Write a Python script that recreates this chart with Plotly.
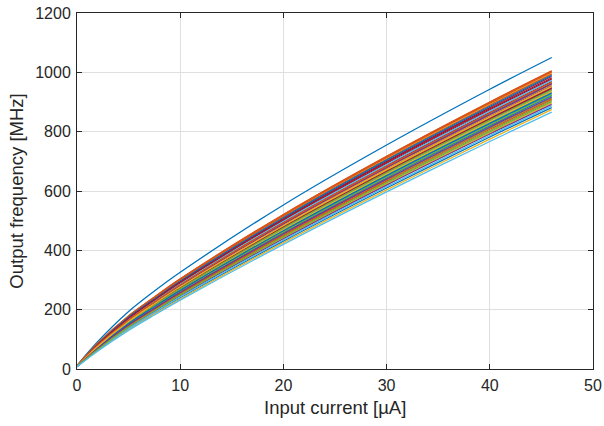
import plotly.graph_objects as go

# Input current sample points [uA]
X_POINTS = [0, 2, 5, 7.5, 10, 20, 30, 40, 46]

# Output frequency [MHz] of each Monte-Carlo run (trace order), at each sample current
F_AT_0 = [12, 10, 10, 9, 9, 9, 10, 10, 10, 9, 10, 9, 9, 10, 8, 10, 8, 9, 9, 9, 10,
          9, 10, 10, 9, 9, 10, 9, 10, 9, 9, 10, 9, 8, 10, 9, 10, 10, 9, 9, 8]
F_AT_2 = [92, 86, 85, 75, 69, 71, 82, 78, 86, 66, 77, 72, 70, 81, 63, 84, 62, 76, 67, 74, 79,
          70, 85, 77, 65, 71, 80, 75, 83, 68, 73, 78, 74, 64, 82, 72, 79, 76, 69, 66, 60]
F_AT_5 = [194, 179, 177, 157, 147, 152, 172, 164, 179, 141, 161, 154, 149, 169, 135, 175, 133, 159, 144, 155, 166,
          150, 178, 162, 139, 151, 168, 158, 174, 145, 154, 163, 156, 137, 171, 153, 165, 160, 148, 142, 130]
F_AT_7_5 = [263, 243, 240, 216, 203, 209, 234, 225, 242, 195, 221, 211, 205, 231, 189, 238, 186, 219, 199, 214, 227,
            206, 241, 222, 194, 208, 229, 217, 236, 201, 212, 223, 215, 191, 233, 210, 226, 220, 204, 197, 182]
F_AT_10 = [326, 304, 300, 272, 256, 264, 294, 282, 303, 248, 278, 267, 259, 290, 240, 298, 236, 275, 252, 269, 285,
           261, 302, 280, 246, 262, 287, 274, 296, 254, 268, 281, 271, 243, 292, 265, 284, 277, 258, 250, 232]
F_AT_20 = [553, 521, 516, 477, 454, 464, 507, 491, 520, 442, 485, 468, 458, 501, 431, 513, 426, 481, 448, 472, 495,
           460, 518, 487, 439, 462, 498, 479, 510, 451, 470, 489, 475, 435, 504, 466, 493, 483, 456, 445, 420]
F_AT_30 = [755, 717, 711, 664, 638, 650, 700, 681, 716, 623, 674, 655, 643, 693, 610, 707, 604, 669, 631, 659, 686,
           645, 713, 676, 620, 647, 689, 667, 704, 634, 657, 679, 662, 615, 697, 652, 683, 671, 640, 627, 597]
F_AT_40 = [943, 900, 893, 841, 812, 826, 881, 860, 899, 796, 852, 831, 818, 873, 782, 889, 775, 847, 804, 836, 865,
           820, 896, 855, 792, 823, 869, 844, 885, 808, 834, 857, 839, 787, 877, 828, 863, 849, 815, 800, 767]
F_AT_46 = [1050, 1005, 998, 944, 913, 927, 986, 963, 1004, 897, 955, 933, 919, 977, 881, 994, 874, 949, 905, 938, 969,
           922, 1001, 958, 892, 924, 973, 947, 990, 909, 936, 961, 941, 887, 981, 930, 966, 952, 916, 901, 866]

X_TICKS = [0, 10, 20, 30, 40, 50]
Y_TICKS = [0, 200, 400, 600, 800, 1000, 1200]
X_LABEL = 'Input current [µA]'
Y_LABEL = 'Output frequency [MHz]'

COLORS = ['#0072BD', '#D95319', '#EDB120', '#7E2F8E', '#77AC30', '#4DBEEE', '#A2142F']

columns = [F_AT_0, F_AT_2, F_AT_5, F_AT_7_5, F_AT_10, F_AT_20, F_AT_30, F_AT_40, F_AT_46]

fig = go.Figure()
for i in range(len(F_AT_46)):
    ys = [col[i] for col in columns]
    fig.add_trace(go.Scatter(
        x=X_POINTS, y=ys, mode='lines',
        line=dict(color=COLORS[i % len(COLORS)], width=1.3, shape='spline', smoothing=0.9),
        showlegend=False, hoverinfo='skip'))

FONT = 'Liberation Sans, Arial, sans-serif'
TXT = '#262626'
axis_common = dict(
    showline=True, linecolor=TXT, linewidth=1, mirror='ticks',
    ticks='inside', ticklen=5, tickcolor=TXT, tickwidth=1,
    showgrid=True, gridcolor='#dfdfdf', gridwidth=1, zeroline=False,
    automargin=False, ticklabeloverflow='allow',
    tickfont=dict(family=FONT, size=16, color=TXT),
)

fig.update_xaxes(
    range=[0, 50], tickvals=X_TICKS, ticktext=[str(v) for v in X_TICKS],
    ticklabelstandoff=2,
    **axis_common)
fig.update_yaxes(
    range=[0, 1200], tickvals=Y_TICKS, ticktext=[str(v) for v in Y_TICKS],
    title=dict(text=Y_LABEL, standoff=6, font=dict(family=FONT, size=18.5, color=TXT)),
    ticklabelstandoff=2,
    **axis_common)

fig.add_annotation(
    text=X_LABEL, xref='paper', yref='paper', x=0.5, y=0,
    xanchor='center', yanchor='middle', yshift=-38, showarrow=False,
    font=dict(family=FONT, size=18.5, color=TXT))

fig.update_layout(
    width=604, height=426,
    margin=dict(l=77, r=11, t=13, b=57),
    paper_bgcolor='white', plot_bgcolor='white',
)

# remove the default 8px page margin so the figure fills the 604x426 window
fig.write_html("out.html", config={'displayModeBar': False},
               post_script="document.body.style.margin='0';")
